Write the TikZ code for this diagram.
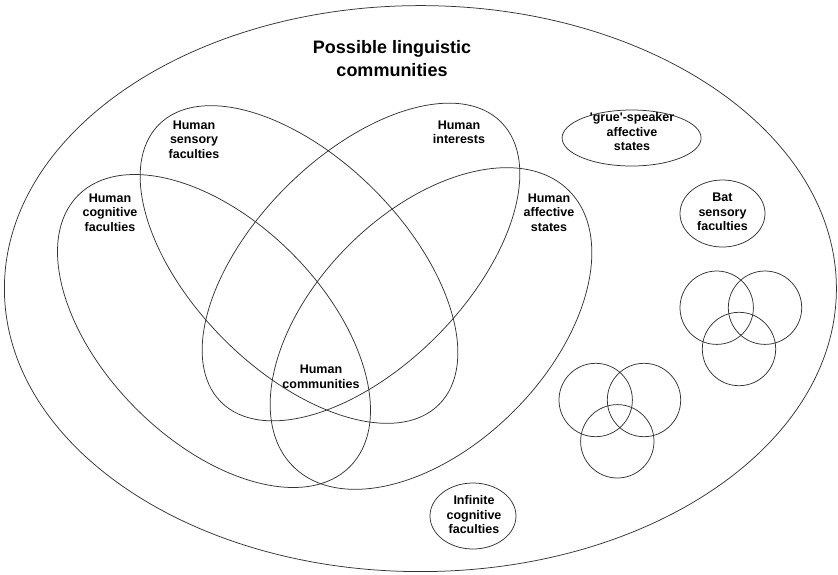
\documentclass[tikz,border=0pt]{standalone}
\usepackage{fontspec}
\setmainfont{Liberation Sans}
\usetikzlibrary{shapes.geometric}
\begin{document}
\begin{tikzpicture}[x=1pt,y=-1pt,
  outline/.style={draw=black!80,line width=0.75pt,inner sep=0pt},
  oval/.style={outline,ellipse},
  ring/.style={outline,circle,minimum size=73.4pt},
  lbl/.style={align=center,font=\bfseries\fontsize{12.5}{14.5}\selectfont,inner sep=0pt},
  heading/.style={align=center,font=\bfseries\fontsize{18}{23}\selectfont,inner sep=0pt}]
\useasboundingbox (0,0) rectangle (838,574);
% outer region
\node[oval,minimum width=832pt,minimum height=566pt] (world) at (420.4,288.6) {};
\node[heading] (title) at (392,58.5) {Possible linguistic\\communities};
% four overlapping human sets
\node[oval,minimum width=396pt,minimum height=212pt,rotate=-45] (sens) at (299,264.5) {};
\node[oval,minimum width=384pt,minimum height=220pt,rotate=-45] (cogn) at (214,331) {};
\node[oval,minimum width=396pt,minimum height=212pt,rotate=45] (intr) at (361,262) {};
\node[oval,minimum width=390pt,minimum height=234pt,rotate=45] (affc) at (431,328.5) {};
\node[lbl] (tsens) at (194,139.5) {Human\\sensory\\faculties};
\node[lbl] (tcogn) at (110,212.5) {Human\\cognitive\\faculties};
\node[lbl] (tintr) at (459,132.5) {Human\\interests};
\node[lbl] (taffc) at (549,212.3) {Human\\affective\\states};
\node[lbl] (tcomm) at (321,377) {Human\\communities};
% other sets
\node[oval,minimum width=139pt,minimum height=56pt] (grue) at (631.6,138) {};
\node[lbl] (tgrue) at (632,132) {\textquotesingle grue\textquotesingle-speaker\\affective\\states};
\node[oval,minimum width=85pt,minimum height=67pt] (bat) at (722.5,213.5) {};
\node[lbl] (tbat) at (722.5,212) {Bat\\sensory\\faculties};
\node[oval,minimum width=86pt,minimum height=66pt] (inf) at (473,516) {};
\node[lbl] (tinf) at (474,515) {Infinite\\cognitive\\faculties};
% unlabelled triples
\node[ring] (ua) at (716.7,307.7) {};
\node[ring] (ub) at (765,307.7) {};
\node[ring] (uc) at (739,349) {};
\node[ring] (la) at (595.7,400) {};
\node[ring] (lb) at (644,400) {};
\node[ring] (lc) at (617.3,441.3) {};
\end{tikzpicture}
\end{document}
